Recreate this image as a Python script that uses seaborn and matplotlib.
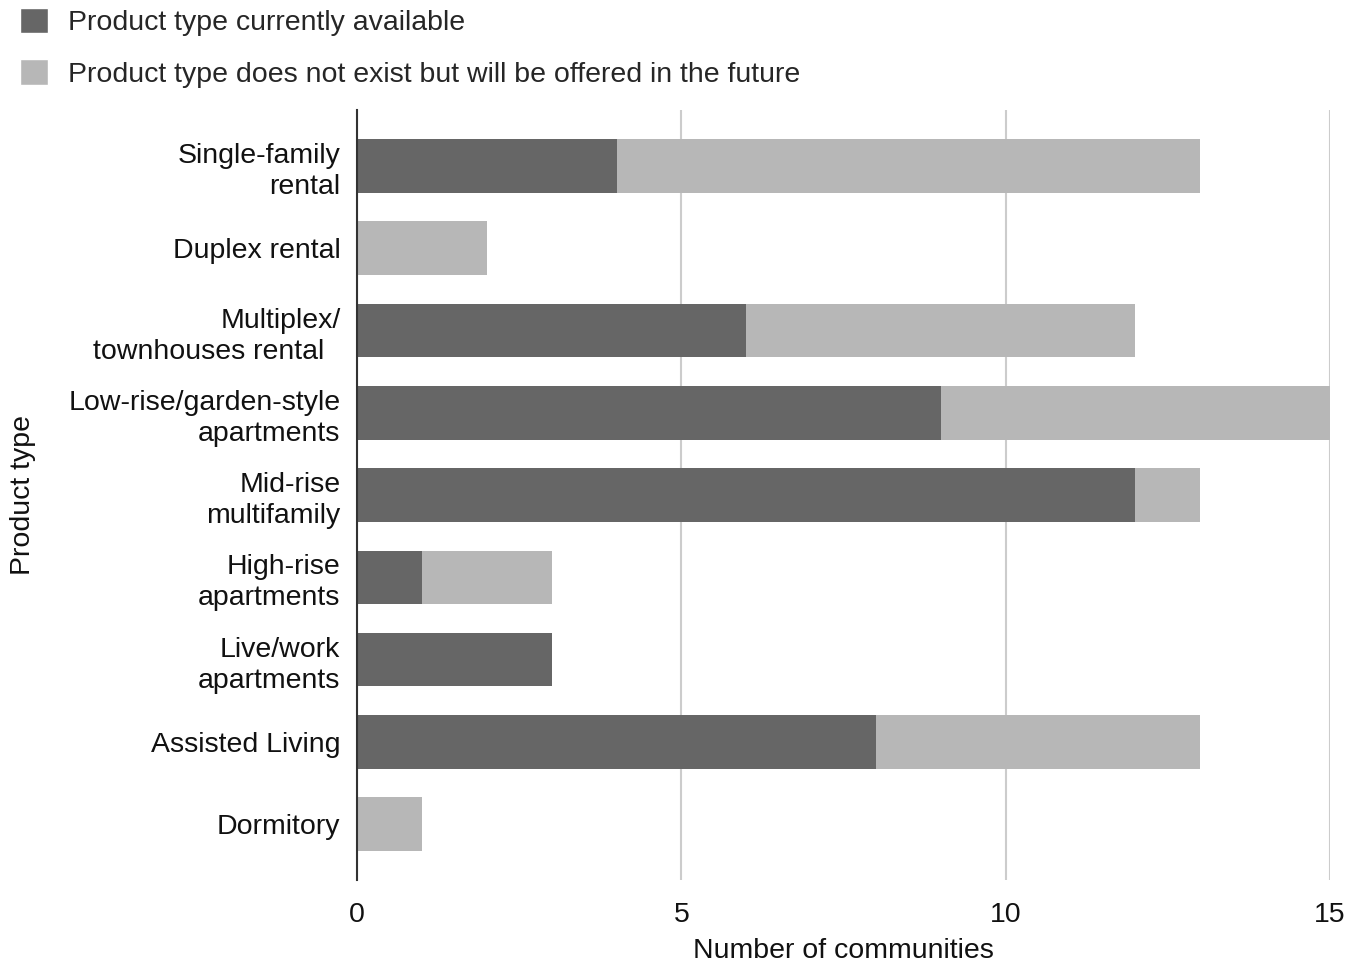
import numpy as np
import pandas as pd
import matplotlib
matplotlib.use("Agg")
import matplotlib.pyplot as plt
import seaborn as sns
from matplotlib.patches import Patch

# data
product_types = [
    "Single-family\nrental",
    "Duplex rental",
    "Multiplex/\ntownhouses rental  ",
    "Low-rise/garden-style\napartments",
    "Mid-rise\nmultifamily",
    "High-rise\napartments",
    "Live/work\napartments",
    "Assisted Living",
    "Dormitory",
]
currently_available = [4, 0, 6, 9, 12, 1, 3, 8, 0]
future_offered = [9, 2, 6, 6, 1, 2, 0, 5, 1]

dark = "#666666"
light = "#b7b7b7"
fs = 20.5

df = pd.DataFrame({
    "product": product_types,
    "current": currently_available,
    "future": future_offered,
})
df["total"] = df["current"] + df["future"]

sns.set_style("white")
plt.rcParams["font.family"] = ["Liberation Sans", "DejaVu Sans"]

fig = plt.figure(figsize=(13.54, 9.65), dpi=100)
ax = fig.add_axes([0.2637, 0.088, 0.7186, 0.798])

# stacked: total in light, then the current part in dark on top
sns.barplot(data=df, y="product", x="total", color=light, orient="h",
            width=0.65, ax=ax, saturation=1, linewidth=0, zorder=2)
sns.barplot(data=df, y="product", x="current", color=dark, orient="h",
            width=0.65, ax=ax, saturation=1, linewidth=0, zorder=3)

ax.set_xlim(0, 15)
ax.set_ylim(len(product_types) - 0.32, -0.68)
ax.set_xticks([0, 5, 10, 15])
ax.xaxis.grid(True, color="#cccccc", linewidth=1.5, zorder=0)
ax.set_axisbelow(True)
for s in ["top", "right", "bottom"]:
    ax.spines[s].set_visible(False)
ax.spines["left"].set_color("#333333")
ax.spines["left"].set_linewidth(1.5)
ax.spines["left"].set_zorder(4)

ax.tick_params(axis="both", length=0, labelsize=fs, colors="#111111")
ax.tick_params(axis="y", pad=12)
ax.tick_params(axis="x", pad=16)
for lbl in ax.get_yticklabels():
    lbl.set_multialignment("right")
    lbl.set_linespacing(1.25)

ax.set_xlabel("Number of communities", fontsize=fs, labelpad=7, color="#111111")
ax.set_ylabel("Product type", fontsize=fs, color="#111111")
ax.yaxis.set_label_coords(-0.33, 0.5)

handles = [
    Patch(facecolor=dark, label="Product type currently available"),
    Patch(facecolor=light, label="Product type does not exist but will be offered in the future"),
]
fig.legend(handles=handles, loc="upper left", bbox_to_anchor=(20 / 1354, 1 - 8 / 965),
           frameon=False, fontsize=fs, handlelength=1.0, handleheight=1.0,
           labelspacing=0.8, handletextpad=0.7, borderpad=0, borderaxespad=0)

fig.savefig("out.png", dpi=100)
